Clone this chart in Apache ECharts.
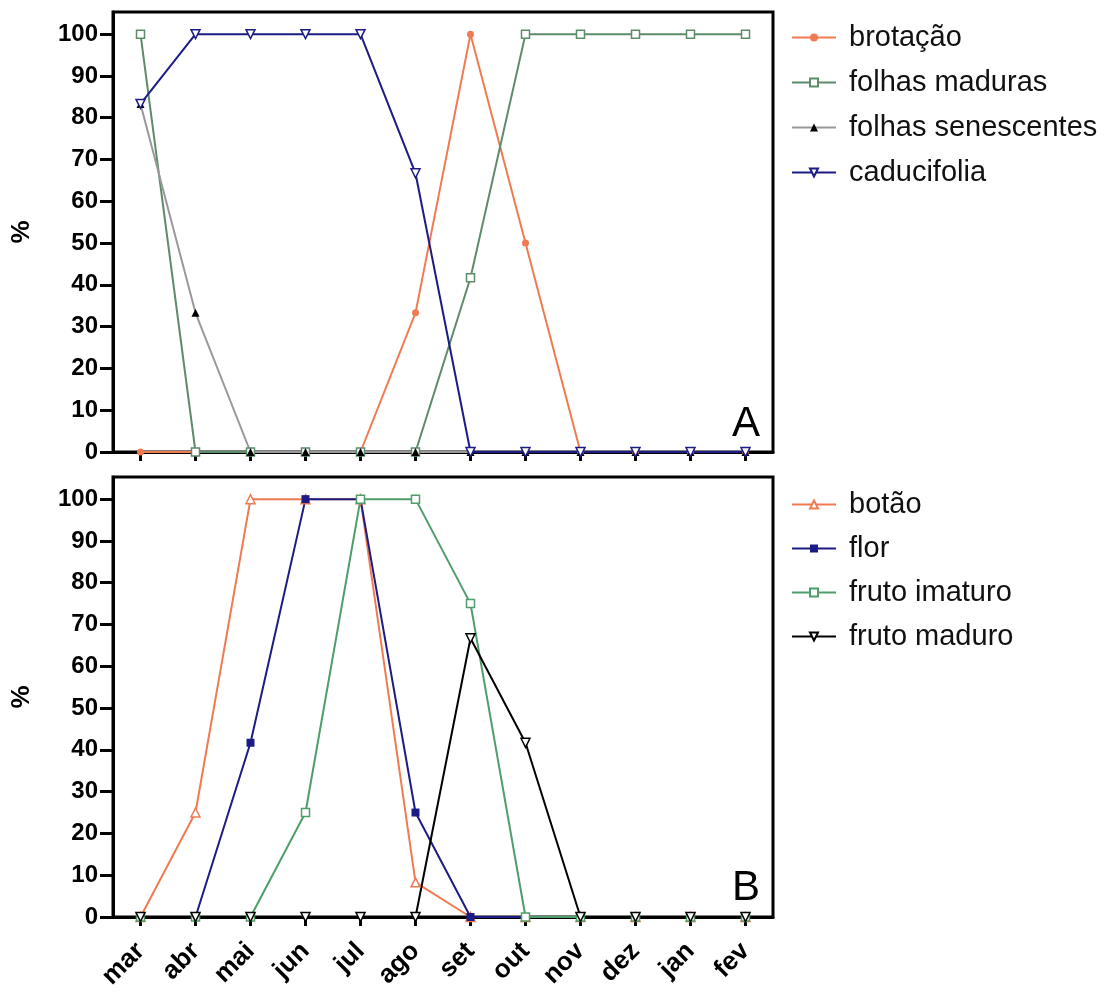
<!DOCTYPE html>
<html>
<head>
<meta charset="utf-8">
<script src="https://cdn.jsdelivr.net/npm/echarts@6/dist/echarts.min.js"></script>
<style>
    html, body { margin: 0; padding: 0; background: #fff; }
    #chart { width: 1120px; height: 994px; }
</style>
</head>
<body>
<div id="chart"></div>
<script>
    var meses = ['mar', 'abr', 'mai', 'jun', 'jul', 'ago', 'set', 'out', 'nov', 'dez', 'jan', 'fev'];
    var yTicks = [0, 10, 20, 30, 40, 50, 60, 70, 80, 90, 100];

    // painel A - folhas
    var brotacao = [0, 0, 0, 0, 0, 33.3, 100, 50, 0, 0, 0, 0];
    var folhasMaduras = [100, 0, 0, 0, 0, 0, 41.7, 100, 100, 100, 100, 100];
    var folhasSenescentes = [83.3, 33.3, 0, 0, 0, 0, 0, 0, 0, 0, 0, 0];
    var caducifolia = [83.3, 100, 100, 100, 100, 66.7, 0, 0, 0, 0, 0, 0];

    // painel B - flores e frutos
    var botao = [0, 25, 100, 100, 100, 8.3, 0, 0, 0, 0, 0, 0];
    var flor = [0, 0, 41.7, 100, 100, 25, 0, 0, 0, 0, 0, 0];
    var frutoImaturo = [0, 0, 0, 25, 100, 100, 75, 0, 0, 0, 0, 0];
    var frutoMaduro = [0, 0, 0, 0, 0, 0, 66.7, 41.7, 0, 0, 0, 0];

    var fonte = 'Liberation Sans, Arial, sans-serif';

    function xAxisFn(idx, showLabel) {
        return {
            type: 'category',
            gridIndex: idx,
            data: meses,
            boundaryGap: true,
            axisLine: { show: true, lineStyle: { color: '#000', width: 3 } },
            axisTick: { show: true, alignWithLabel: true, length: 9, lineStyle: { color: '#000', width: 3 } },
            axisLabel: {
                show: showLabel,
                rotate: 45,
                margin: 30,
                interval: 0,
                color: '#000',
                fontFamily: fonte,
                fontWeight: 'bold',
                fontSize: 26
            },
            splitLine: { show: false }
        };
    };

    function yAxisFn(idx) {
        return {
            type: 'value',
            gridIndex: idx,
            min: 0,
            max: 105.3,
            interval: 10,
            name: '%',
            nameLocation: 'middle',
            nameGap: 78,
            nameRotate: 90,
            nameTextStyle: { color: '#000', fontFamily: fonte, fontWeight: 'bold', fontSize: 26 },
            axisLine: { show: true, lineStyle: { color: '#000', width: 3 } },
            axisTick: { show: true, length: 13, customValues: yTicks, lineStyle: { color: '#000', width: 3 } },
            axisLabel: {
                customValues: yTicks,
                margin: 15,
                color: '#000',
                fontFamily: fonte,
                fontWeight: 'bold',
                fontSize: 24
            },
            splitLine: { show: false }
        };
    };

    function serieFn(name, data, idx, color, symbol, filled, size, lineColor) {
        return {
            name: name,
            type: 'line',
            xAxisIndex: idx,
            yAxisIndex: idx,
            data: data,
            symbol: symbol,
            symbolSize: size,
            showAllSymbol: true,
            lineStyle: { color: lineColor || color, width: 2 },
            itemStyle: {
                color: filled ? color : '#fff',
                borderColor: color,
                borderWidth: filled ? 0 : 1.5
            },
            emphasis: { disabled: true },
            animation: false
        };
    };

    var triDown = 'path://M0,0 L10,0 L5,9 Z';
    var laranja = '#f07b52', verdeA = '#5c8c6a', verdeB = '#4e9e6b', azul = '#1c1c84', cinza = '#999';

    var legendaTexto = { color: '#111', fontFamily: fonte, fontSize: 29, padding: [0, 0, 0, 8] };

    var option = {
        backgroundColor: '#fff',
        animation: false,
        title: [
            { text: 'A', left: 727, top: 398, textStyle: { fontFamily: fonte, fontSize: 42, fontWeight: 'normal', color: '#000' } },
            { text: 'B', left: 727, top: 862, textStyle: { fontFamily: fonte, fontSize: 42, fontWeight: 'normal', color: '#000' } }
        ],
        legend: [{
            data: ['brotação', 'folhas maduras', 'folhas senescentes', 'caducifolia'],
            orient: 'vertical',
            left: 786,
            top: 18,
            itemWidth: 44,
            itemHeight: 10,
            itemGap: 16,
            textStyle: legendaTexto,
            selectedMode: false
        }, {
            data: ['botão', 'flor', 'fruto imaturo', 'fruto maduro'],
            orient: 'vertical',
            left: 786,
            top: 485,
            itemWidth: 44,
            itemHeight: 10,
            itemGap: 15,
            textStyle: legendaTexto,
            selectedMode: false
        }],
        grid: [
            { left: 113, top: 12, width: 660, height: 440, show: true, borderColor: '#000', borderWidth: 3, backgroundColor: 'transparent' },
            { left: 113, top: 477, width: 660, height: 440, show: true, borderColor: '#000', borderWidth: 3, backgroundColor: 'transparent' }
        ],
        xAxis: [xAxisFn(0, false), xAxisFn(1, true)],
        yAxis: [yAxisFn(0), yAxisFn(1)],
        series: [
            serieFn('brotação', brotacao, 0, laranja, 'circle', true, 7),
            serieFn('folhas maduras', folhasMaduras, 0, verdeA, 'rect', false, 8),
            serieFn('folhas senescentes', folhasSenescentes, 0, '#000', 'triangle', true, 8, cinza),
            serieFn('caducifolia', caducifolia, 0, azul, triDown, false, 9),
            serieFn('botão', botao, 1, laranja, 'triangle', false, 9),
            serieFn('flor', flor, 1, azul, 'rect', true, 8),
            serieFn('fruto imaturo', frutoImaturo, 1, verdeB, 'rect', false, 8),
            serieFn('fruto maduro', frutoMaduro, 1, '#000', triDown, false, 9)
        ]
    };

    var chart = echarts.init(document.getElementById('chart'), null, { renderer: 'canvas' });
    chart.setOption(option);
</script>
</body>
</html>
